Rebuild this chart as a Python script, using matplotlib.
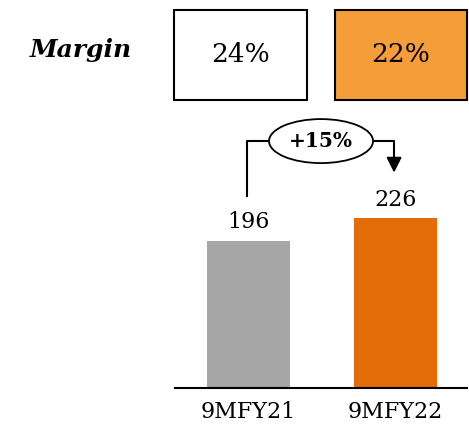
import matplotlib
matplotlib.use('Agg')
import matplotlib.pyplot as plt
from matplotlib.patches import Rectangle, Ellipse

# data
periods = ['9MFY21', '9MFY22']
values = [196, 226]
margins = ['24%', '22%']
growth = '+15%'

bar_cols = ['#A6A6A6', '#E36C09']
box_cols = ['white', '#F59D38']

plt.rcParams['font.family'] = ['DejaVu Serif']

W, H = 469, 426
fig = plt.figure(figsize=(W / 100, H / 100), dpi=100)
# axes: baseline at y=388px, x from 175px to 467px
ax = fig.add_axes([175 / W, (H - 388) / H, (467 - 175) / W, 388 / H])
x = [0, 1]
ax.bar(x, values, width=0.565, color=bar_cols)
ax.set_xlim(-0.5, 1.486)
ax.set_ylim(0, 517)
for s in ['top', 'right', 'left']:
    ax.spines[s].set_visible(False)
ax.spines['bottom'].set_linewidth(1.5)
ax.set_yticks([])
ax.set_xticks(x)
ax.set_xticklabels(periods, fontsize=16)
ax.tick_params(axis='x', length=0, pad=9)

# value labels
for xi, v in zip(x, values):
    ax.text(xi, v + 10, str(v), ha='center', va='bottom', fontsize=16)

# growth connector
y_top = 329
ax.plot([x[0] - 0.01, x[0] - 0.01, -0.01 + (269 - 247) / 147], [values[0] + 60, y_top, y_top], color='black', lw=1.5, clip_on=False)
ax.plot([(373 - 248.5) / 147, x[1] - 0.01, x[1] - 0.01], [y_top, y_top, values[1] + 75], color='black', lw=1.5, clip_on=False)
ax.annotate('', xy=(x[1] - 0.01, values[1] + 61), xytext=(x[1] - 0.01, values[1] + 80),
            arrowprops=dict(arrowstyle='-|>,head_length=0.9,head_width=0.45', color='black', lw=1.5, shrinkA=0, shrinkB=0))
ax.add_patch(Ellipse(((321 - 248.5) / 147, y_top), 104 / 147, 44 / 0.75, facecolor='white',
                     edgecolor='black', lw=1.3, clip_on=False, zorder=3))
ax.text((321 - 248.5) / 147, y_top, growth, ha='center', va='center', fontsize=14.5, fontweight='bold', zorder=4)

# margin boxes
box_x = [(174, 307), (335, 467)]
for (x0, x1), m, c in zip(box_x, margins, box_cols):
    bx0 = (x0 - 248.5) / 147
    bx1 = (x1 - 248.5) / 147
    ax.add_patch(Rectangle((bx0, 384), bx1 - bx0, 120, facecolor=c, edgecolor='black', lw=1.5, clip_on=False))
    ax.text((bx0 + bx1) / 2, 444, m, ha='center', va='center', fontsize=19)

fig.text(81 / W, 1 - 50 / H, 'Margin', ha='center', va='center', fontsize=18, fontweight='bold', style='italic')

fig.savefig('out.png', dpi=100)
